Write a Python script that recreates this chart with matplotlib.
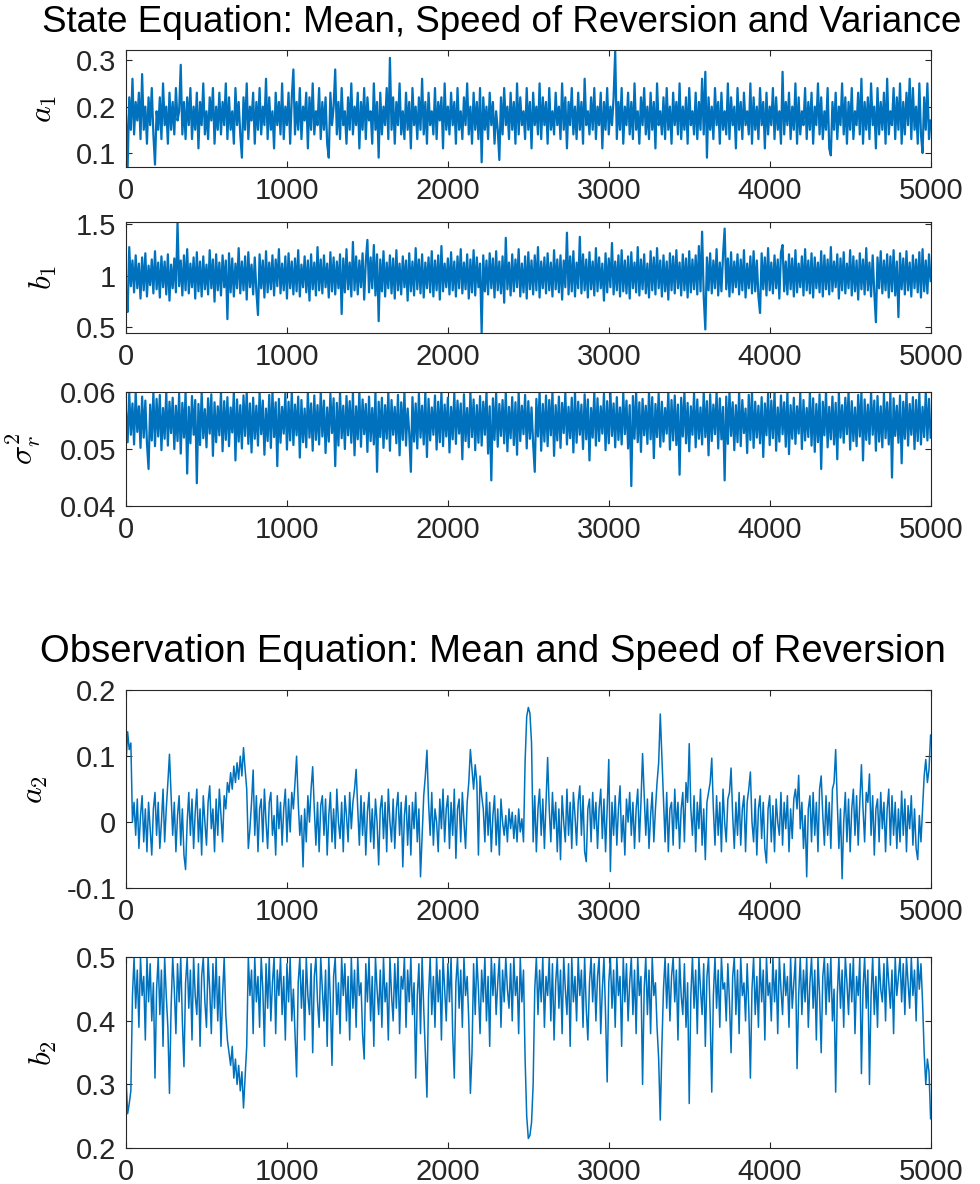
import matplotlib
matplotlib.use("Agg")
import matplotlib.pyplot as plt

# MCMC draws, one value every 10 iterations
iters = list(range(0, 5001, 10))

a1 = [0.18, 0.07, 0.22, 0.15, 0.26, 0.14, 0.21, 0.17, 0.23, 0.13, 0.27, 0.15, 0.20, 0.12, 0.22, 0.16, 0.24, 0.14, 0.075, 0.19,
      0.15, 0.22, 0.13, 0.25, 0.16, 0.20, 0.12, 0.23, 0.15, 0.21, 0.14, 0.24, 0.17, 0.19, 0.29, 0.14, 0.21, 0.13, 0.22, 0.16,
      0.24, 0.13, 0.20, 0.15, 0.23, 0.11, 0.21, 0.16, 0.25, 0.14, 0.19, 0.13, 0.22, 0.17, 0.24, 0.12, 0.20, 0.15, 0.23, 0.14,
      0.21, 0.16, 0.25, 0.13, 0.22, 0.15, 0.19, 0.12, 0.24, 0.16, 0.21, 0.14, 0.09, 0.22, 0.15, 0.25, 0.13, 0.20, 0.17, 0.23,
      0.12, 0.21, 0.15, 0.24, 0.14, 0.20, 0.16, 0.26, 0.13, 0.22, 0.15, 0.19, 0.11, 0.23, 0.16, 0.21, 0.14, 0.25, 0.13, 0.20,
      0.16, 0.23, 0.12, 0.22, 0.28, 0.14, 0.21, 0.15, 0.24, 0.13, 0.20, 0.17, 0.23, 0.11, 0.22, 0.15, 0.25, 0.14, 0.19, 0.16,
      0.24, 0.13, 0.21, 0.15, 0.22, 0.12, 0.09, 0.23, 0.16, 0.20, 0.28, 0.14, 0.21, 0.13, 0.24, 0.16, 0.19, 0.12, 0.22, 0.15,
      0.25, 0.14, 0.20, 0.16, 0.23, 0.11, 0.21, 0.15, 0.24, 0.13, 0.22, 0.17, 0.19, 0.12, 0.25, 0.15, 0.21, 0.09, 0.23, 0.14,
      0.20, 0.16, 0.24, 0.13, 0.305, 0.15, 0.22, 0.12, 0.21, 0.16, 0.25, 0.14, 0.19, 0.13, 0.23, 0.15, 0.21, 0.11, 0.24, 0.16,
      0.20, 0.13, 0.22, 0.15, 0.26, 0.14, 0.21, 0.12, 0.23, 0.16, 0.19, 0.14, 0.24, 0.13, 0.21, 0.17, 0.22, 0.11, 0.25, 0.15,
      0.20, 0.14, 0.23, 0.16, 0.21, 0.12, 0.24, 0.15, 0.19, 0.13, 0.22, 0.16, 0.25, 0.14, 0.20, 0.12, 0.23, 0.15, 0.21, 0.13,
      0.24, 0.08, 0.22, 0.15, 0.20, 0.13, 0.23, 0.16, 0.21, 0.12, 0.19, 0.15, 0.085, 0.22, 0.14, 0.24, 0.16, 0.20, 0.13, 0.23,
      0.15, 0.21, 0.12, 0.25, 0.14, 0.22, 0.16, 0.19, 0.13, 0.24, 0.15, 0.21, 0.11, 0.23, 0.16, 0.20, 0.14, 0.25, 0.13, 0.22,
      0.16, 0.21, 0.12, 0.24, 0.15, 0.19, 0.14, 0.23, 0.16, 0.20, 0.13, 0.25, 0.15, 0.22, 0.11, 0.21, 0.16, 0.24, 0.14, 0.20,
      0.13, 0.23, 0.15, 0.21, 0.12, 0.26, 0.16, 0.19, 0.14, 0.22, 0.15, 0.24, 0.13, 0.20, 0.16, 0.23, 0.11, 0.21, 0.15, 0.24,
      0.14, 0.20, 0.16, 0.22, 0.32, 0.13, 0.21, 0.15, 0.24, 0.12, 0.20, 0.16, 0.23, 0.14, 0.21, 0.13, 0.25, 0.15, 0.19, 0.12,
      0.22, 0.16, 0.24, 0.14, 0.20, 0.13, 0.23, 0.15, 0.21, 0.11, 0.25, 0.16, 0.19, 0.14, 0.22, 0.13, 0.24, 0.15, 0.20, 0.12,
      0.23, 0.16, 0.21, 0.14, 0.25, 0.13, 0.20, 0.15, 0.22, 0.12, 0.24, 0.16, 0.19, 0.14, 0.23, 0.13, 0.21, 0.15, 0.26, 0.14,
      0.275, 0.09, 0.22, 0.15, 0.20, 0.13, 0.24, 0.16, 0.21, 0.12, 0.23, 0.15, 0.19, 0.14, 0.25, 0.13, 0.22, 0.16, 0.20, 0.11,
      0.24, 0.15, 0.21, 0.13, 0.23, 0.16, 0.19, 0.14, 0.25, 0.12, 0.22, 0.15, 0.20, 0.13, 0.24, 0.16, 0.21, 0.11, 0.23, 0.14,
      0.20, 0.16, 0.24, 0.13, 0.22, 0.15, 0.19, 0.12, 0.275, 0.14, 0.21, 0.16, 0.23, 0.13, 0.20, 0.15, 0.25, 0.12, 0.22, 0.14,
      0.19, 0.16, 0.24, 0.13, 0.21, 0.15, 0.23, 0.12, 0.20, 0.16, 0.25, 0.14, 0.22, 0.13, 0.19, 0.15, 0.24, 0.11, 0.095, 0.21,
      0.15, 0.23, 0.13, 0.20, 0.16, 0.25, 0.14, 0.22, 0.12, 0.21, 0.15, 0.24, 0.13, 0.19, 0.16, 0.23, 0.14, 0.26, 0.12, 0.21,
      0.15, 0.22, 0.13, 0.25, 0.16, 0.20, 0.11, 0.24, 0.14, 0.21, 0.15, 0.23, 0.12, 0.26, 0.14, 0.19, 0.16, 0.24, 0.13, 0.22,
      0.15, 0.25, 0.12, 0.21, 0.14, 0.23, 0.16, 0.26, 0.13, 0.24, 0.15, 0.20, 0.12, 0.25, 0.14, 0.10, 0.22, 0.15, 0.25, 0.13,
      0.17]

b1 = [0.82, 0.65, 1.28, 0.90, 1.15, 0.84, 1.20, 0.88, 1.12, 0.78, 1.18, 0.86, 1.22, 0.80, 1.10, 0.91, 1.16, 0.83, 1.24, 0.87,
      1.13, 0.79, 1.19, 0.89, 1.14, 0.82, 1.21, 0.76, 1.11, 0.88, 1.17, 0.84, 1.525, 0.90, 1.15, 0.81, 1.20, 0.86, 1.26, 0.83,
      1.12, 0.89, 1.18, 0.78, 1.23, 0.85, 1.14, 0.80, 1.19, 0.87, 1.11, 0.82, 1.25, 0.88, 1.16, 0.75, 1.21, 0.86, 1.13, 0.81,
      1.20, 0.89, 1.15, 0.58, 1.22, 0.84, 1.17, 0.80, 1.12, 0.88, 1.27, 0.83, 1.14, 0.86, 1.19, 0.77, 1.23, 0.89, 1.11, 0.82,
      1.18, 0.85, 0.62, 1.21, 0.88, 1.15, 0.79, 1.24, 0.84, 1.13, 0.87, 1.20, 0.81, 1.16, 0.90, 1.26, 0.83, 1.12, 0.86, 1.19,
      0.78, 1.22, 0.88, 1.14, 0.82, 1.17, 0.85, 1.25, 0.80, 1.11, 0.89, 1.19, 0.84, 1.15, 0.76, 1.21, 0.87, 1.13, 0.81, 1.28,
      0.86, 1.16, 0.83, 1.20, 0.89, 1.12, 0.79, 1.23, 0.85, 1.18, 0.82, 1.14, 0.88, 1.21, 0.63, 1.17, 0.84, 1.26, 0.87, 1.13,
      0.80, 1.33, 0.86, 1.19, 0.82, 1.15, 0.89, 1.22, 0.77, 1.14, 1.35, 0.84, 1.18, 0.88, 1.30, 0.81, 1.21, 0.56, 1.16, 0.85,
      1.24, 0.80, 1.13, 0.88, 1.20, 0.83, 1.17, 0.78, 1.25, 0.86, 1.12, 0.82, 1.19, 0.89, 1.15, 0.76, 1.22, 0.85, 1.14, 0.81,
      1.27, 0.87, 1.16, 0.83, 1.21, 0.79, 1.13, 0.88, 1.18, 0.84, 1.24, 0.80, 1.15, 0.86, 1.20, 0.77, 1.29, 0.85, 1.12, 0.89,
      1.17, 0.82, 1.23, 0.86, 1.14, 0.80, 1.19, 0.88, 1.26, 0.83, 1.13, 0.87, 1.21, 0.78, 1.16, 0.84, 1.25, 0.81, 1.18, 0.89,
      1.12, 0.446, 1.20, 0.85, 1.15, 0.82, 1.22, 0.88, 1.17, 0.79, 1.24, 0.86, 1.14, 0.83, 1.19, 0.74, 1.37, 0.87, 1.13, 0.81,
      1.21, 0.85, 1.16, 0.89, 1.26, 0.80, 1.12, 0.84, 1.19, 0.78, 1.23, 0.87, 1.15, 0.82, 1.20, 0.86, 1.28, 0.79, 1.14, 0.88,
      1.18, 0.83, 1.22, 0.86, 1.13, 0.80, 1.25, 0.87, 1.16, 0.84, 1.20, 0.77, 1.15, 0.89, 1.42, 0.82, 1.19, 0.85, 1.24, 0.80,
      1.13, 0.88, 1.38, 0.83, 1.21, 0.86, 1.16, 0.79, 1.23, 0.87, 1.14, 0.81, 1.27, 0.85, 1.18, 0.88, 1.12, 0.76, 1.22, 0.84,
      1.17, 0.89, 1.32, 0.82, 1.14, 0.86, 1.20, 0.80, 1.25, 0.85, 1.15, 0.83, 1.19, 0.78, 1.23, 0.88, 1.13, 0.84, 1.28, 0.81,
      1.16, 0.87, 1.21, 0.83, 1.12, 0.79, 1.24, 0.86, 1.18, 0.82, 1.27, 0.88, 1.15, 0.80, 1.20, 0.85, 1.14, 0.77, 1.22, 0.86,
      1.19, 0.83, 1.25, 0.88, 1.13, 0.81, 1.21, 0.86, 1.17, 0.79, 1.24, 0.84, 1.16, 0.87, 1.20, 0.82, 1.29, 0.85, 1.43, 0.80,
      0.48, 1.18, 0.86, 1.22, 0.83, 1.15, 0.88, 1.26, 0.81, 1.13, 0.85, 1.20, 1.46, 0.87, 1.17, 0.80, 1.23, 0.84, 1.14, 0.89,
      1.21, 0.82, 1.16, 0.86, 1.25, 0.79, 1.12, 0.88, 1.19, 0.83, 1.24, 0.85, 1.15, 0.80, 0.64, 1.22, 0.87, 1.18, 0.81, 1.27,
      0.86, 1.13, 0.83, 1.20, 0.88, 1.16, 0.78, 1.23, 1.30, 0.85, 1.14, 0.82, 1.21, 0.87, 1.17, 0.80, 1.25, 0.84, 1.12, 0.89,
      1.19, 0.81, 1.26, 0.86, 1.15, 0.83, 1.22, 0.79, 1.18, 0.88, 1.13, 0.84, 1.24, 0.80, 1.20, 0.87, 1.16, 0.82, 1.28, 0.85,
      1.14, 0.89, 1.21, 0.78, 1.17, 0.86, 1.23, 0.83, 1.12, 0.88, 1.25, 0.81, 1.19, 0.85, 1.15, 0.77, 1.22, 0.87, 1.16, 0.82,
      1.27, 0.86, 1.13, 0.80, 1.20, 0.84, 0.55, 1.18, 0.88, 1.24, 0.83, 1.15, 0.86, 1.21, 0.79, 1.19, 0.85, 1.25, 0.81, 1.14,
      0.60, 1.22, 0.87, 1.17, 0.82, 1.24, 0.86, 1.13, 0.80, 1.20, 0.88, 1.16, 0.84, 1.23, 0.79, 1.26, 0.85, 1.15, 0.83, 1.21,
      0.95]

sigma_r2 = [0.0565, 0.0512, 0.0598, 0.0525, 0.0580, 0.0508, 0.0600, 0.0530, 0.0575, 0.0502, 0.0592, 0.0520, 0.0585, 0.0510, 0.0465, 0.0578, 0.0515, 0.0600, 0.0505, 0.0588,
            0.0522, 0.0595, 0.0498, 0.0572, 0.0518, 0.0600, 0.0506, 0.0583, 0.0528, 0.0590, 0.0500, 0.0576, 0.0514, 0.0597, 0.0492, 0.0581, 0.0520, 0.0600, 0.0457, 0.0574,
            0.0510, 0.0593, 0.0525, 0.0586, 0.0440, 0.0579, 0.0507, 0.0600, 0.0519, 0.0570, 0.0503, 0.0589, 0.0527, 0.0596, 0.0488, 0.0582, 0.0512, 0.0575, 0.0524, 0.0600,
            0.0496, 0.0584, 0.0516, 0.0591, 0.0505, 0.0573, 0.0529, 0.0600, 0.0480, 0.0587, 0.0513, 0.0577, 0.0501, 0.0594, 0.0523, 0.0600, 0.0509, 0.0580, 0.0494, 0.0590,
            0.0518, 0.0576, 0.0506, 0.0599, 0.0526, 0.0585, 0.0490, 0.0571, 0.0514, 0.0595, 0.0502, 0.0600, 0.0521, 0.0582, 0.0470, 0.0588, 0.0511, 0.0574, 0.0527, 0.0597,
            0.0499, 0.0583, 0.0515, 0.0600, 0.0507, 0.0578, 0.0524, 0.0592, 0.0485, 0.0586, 0.0512, 0.0571, 0.0503, 0.0599, 0.0520, 0.0580, 0.0497, 0.0594, 0.0516, 0.0577,
            0.0508, 0.0600, 0.0522, 0.0585, 0.0493, 0.0573, 0.0513, 0.0597, 0.0528, 0.0589, 0.0470, 0.0581, 0.0506, 0.0600, 0.0519, 0.0576, 0.0500, 0.0593, 0.0524, 0.0584,
            0.0511, 0.0598, 0.0489, 0.0575, 0.0517, 0.0600, 0.0504, 0.0587, 0.0526, 0.0579, 0.0495, 0.0592, 0.0514, 0.0572, 0.0508, 0.0599, 0.0460, 0.0583, 0.0521, 0.0590,
            0.0502, 0.0577, 0.0518, 0.0600, 0.0497, 0.0586, 0.0525, 0.0574, 0.0510, 0.0595, 0.0489, 0.0582, 0.0516, 0.0600, 0.0506, 0.0571, 0.0528, 0.0460, 0.0591, 0.0513,
            0.0580, 0.0501, 0.0597, 0.0520, 0.0576, 0.0508, 0.0600, 0.0486, 0.0588, 0.0515, 0.0573, 0.0525, 0.0594, 0.0499, 0.0583, 0.0512, 0.0600, 0.0505, 0.0578, 0.0522,
            0.0590, 0.0494, 0.0574, 0.0517, 0.0599, 0.0509, 0.0585, 0.0527, 0.0580, 0.0482, 0.0596, 0.0514, 0.0572, 0.0503, 0.0600, 0.0521, 0.0587, 0.0498, 0.0577, 0.0511,
            0.0593, 0.0506, 0.0583, 0.0525, 0.0600, 0.0492, 0.0575, 0.0445, 0.0589, 0.0516, 0.0598, 0.0504, 0.0579, 0.0523, 0.0586, 0.0510, 0.0600, 0.0496, 0.0574, 0.0519,
            0.0591, 0.0507, 0.0582, 0.0490, 0.0600, 0.0514, 0.0576, 0.0526, 0.0595, 0.0501, 0.0584, 0.0518, 0.0573, 0.0509, 0.0460, 0.0588, 0.0522, 0.0600, 0.0497, 0.0579,
            0.0513, 0.0594, 0.0505, 0.0586, 0.0524, 0.0600, 0.0488, 0.0577, 0.0515, 0.0592, 0.0502, 0.0581, 0.0528, 0.0599, 0.0508, 0.0574, 0.0519, 0.0590, 0.0494, 0.0600,
            0.0511, 0.0583, 0.0525, 0.0578, 0.0500, 0.0596, 0.0517, 0.0587, 0.0480, 0.0572, 0.0520, 0.0600, 0.0506, 0.0589, 0.0514, 0.0575, 0.0527, 0.0597, 0.0498, 0.0584,
            0.0510, 0.0600, 0.0523, 0.0580, 0.0503, 0.0591, 0.0516, 0.0573, 0.0508, 0.0598, 0.0526, 0.0585, 0.0501, 0.0577, 0.0435, 0.0593, 0.0518, 0.0600, 0.0512, 0.0582,
            0.0495, 0.0588, 0.0524, 0.0576, 0.0509, 0.0600, 0.0517, 0.0591, 0.0484, 0.0579, 0.0521, 0.0597, 0.0504, 0.0583, 0.0513, 0.0572, 0.0527, 0.0600, 0.0499, 0.0586,
            0.0515, 0.0594, 0.0507, 0.0578, 0.0455, 0.0590, 0.0522, 0.0600, 0.0510, 0.0581, 0.0496, 0.0575, 0.0525, 0.0598, 0.0503, 0.0587, 0.0518, 0.0573, 0.0508, 0.0600,
            0.0521, 0.0584, 0.0489, 0.0596, 0.0514, 0.0578, 0.0526, 0.0600, 0.0501, 0.0589, 0.0517, 0.0574, 0.0445, 0.0592, 0.0509, 0.0600, 0.0523, 0.0582, 0.0498, 0.0577,
            0.0512, 0.0599, 0.0505, 0.0586, 0.0528, 0.0571, 0.0493, 0.0595, 0.0516, 0.0600, 0.0502, 0.0583, 0.0520, 0.0576, 0.0510, 0.0591, 0.0486, 0.0580, 0.0524, 0.0597,
            0.0507, 0.0585, 0.0519, 0.0600, 0.0497, 0.0573, 0.0513, 0.0594, 0.0526, 0.0582, 0.0504, 0.0600, 0.0491, 0.0577, 0.0518, 0.0590, 0.0509, 0.0575, 0.0527, 0.0598,
            0.0500, 0.0586, 0.0515, 0.0572, 0.0521, 0.0600, 0.0506, 0.0589, 0.0495, 0.0579, 0.0512, 0.0596, 0.0465, 0.0583, 0.0524, 0.0600, 0.0503, 0.0574, 0.0517, 0.0592,
            0.0508, 0.0581, 0.0482, 0.0599, 0.0520, 0.0577, 0.0511, 0.0590, 0.0526, 0.0600, 0.0499, 0.0584, 0.0514, 0.0573, 0.0505, 0.0595, 0.0522, 0.0600, 0.0480, 0.0587,
            0.0516, 0.0578, 0.0509, 0.0600, 0.0525, 0.0585, 0.0497, 0.0593, 0.0513, 0.0575, 0.0503, 0.0598, 0.0519, 0.0582, 0.0508, 0.0600, 0.0450, 0.0589, 0.0523, 0.0576,
            0.0511, 0.0594, 0.0475, 0.0583, 0.0518, 0.0600, 0.0506, 0.0579, 0.0525, 0.0591, 0.0500, 0.0586, 0.0514, 0.0597, 0.0508, 0.0574, 0.0521, 0.0600, 0.0515, 0.0588,
            0.0520]

a2 = [0.09, 0.137, 0.11, 0.12, 0.0, 0.03, -0.02, 0.035, -0.04, 0.01, 0.04, -0.03, 0.02, -0.045, 0.03, -0.01, -0.05, 0.02, 0.045, -0.02,
      0.03, -0.04, 0.0, 0.05, -0.03, 0.02, 0.06, 0.103, 0.04, -0.02, 0.03, -0.045, 0.01, 0.04, -0.035, 0.02, -0.05, -0.072, 0.0, 0.045,
      -0.02, 0.035, -0.04, 0.015, 0.05, -0.03, 0.02, -0.05, 0.04, 0.0, -0.035, 0.03, 0.055, -0.01, 0.02, -0.045, 0.035, -0.02, 0.05, 0.01,
      -0.03, 0.04, 0.02, 0.06, 0.045, 0.075, 0.05, 0.085, 0.06, 0.09, 0.065, 0.10, 0.07, 0.113, 0.08, 0.05, -0.04, -0.01, 0.03, 0.079,
      -0.02, 0.04, -0.045, 0.02, 0.035, -0.03, 0.05, 0.0, -0.04, 0.03, 0.045, -0.02, 0.01, -0.05, 0.04, -0.01, 0.03, -0.035, 0.02, 0.05,
      -0.03, 0.035, -0.015, 0.045, 0.02, 0.06, 0.10, 0.03, -0.02, 0.01, -0.068, 0.02, -0.03, 0.04, 0.0, 0.05, 0.084, 0.02, -0.035, 0.03,
      -0.045, 0.025, 0.04, -0.02, 0.035, -0.05, 0.01, 0.045, -0.03, 0.02, -0.04, 0.05, 0.0, -0.025, 0.03, -0.045, 0.04, 0.01, -0.03, 0.045,
      -0.01, 0.03, 0.05, 0.08, 0.02, -0.035, 0.04, -0.02, 0.03, -0.05, 0.015, 0.045, -0.03, 0.02, -0.04, 0.035, 0.0, -0.065, 0.02, 0.04,
      -0.025, 0.03, -0.045, 0.05, 0.0, -0.03, 0.035, -0.04, 0.02, 0.045, -0.02, 0.03, -0.068, 0.01, 0.04, -0.035, 0.025, -0.05, 0.03, -0.01,
      0.045, -0.03, 0.02, -0.083, -0.02, 0.04, 0.07, 0.109, 0.03, -0.02, 0.045, -0.035, 0.02, 0.0, -0.045, 0.035, -0.01, 0.05, -0.03, 0.02,
      0.04, -0.04, 0.03, -0.02, 0.05, -0.055, 0.02, 0.035, -0.03, 0.045, 0.0, -0.04, 0.03, 0.06, 0.11, 0.08, 0.05, 0.087, 0.06, -0.05,
      0.07, 0.04, 0.02, -0.03, 0.045, -0.02, 0.03, -0.045, 0.01, 0.04, -0.035, 0.02, -0.05, 0.035, 0.0, -0.02, 0.01, -0.03, 0.02, -0.01,
      0.015, -0.025, 0.01, -0.03, 0.02, -0.015, 0.005, -0.03, 0.092, 0.16, 0.174, 0.165, 0.12, -0.03, 0.04, -0.045, 0.02, 0.05, -0.02, 0.035,
      -0.04, 0.03, 0.098, 0.02, -0.03, 0.045, -0.01, 0.03, -0.045, 0.02, -0.057, 0.04, 0.0, -0.03, 0.05, -0.02, 0.03, -0.04, 0.045, 0.01,
      -0.035, 0.03, 0.055, -0.02, 0.04, -0.045, -0.06, 0.02, 0.035, -0.03, 0.045, -0.01, 0.03, -0.04, 0.02, 0.05, -0.025, 0.035, -0.045, 0.02,
      0.095, -0.075, 0.03, -0.02, 0.04, -0.035, 0.02, 0.055, -0.03, 0.01, -0.05, 0.035, 0.0, 0.045, -0.02, 0.03, -0.04, 0.02, 0.05, -0.03,
      0.03, 0.104, 0.04, -0.02, 0.035, -0.04, 0.01, 0.045, -0.03, 0.02, 0.06, 0.09, 0.164, 0.10, 0.04, -0.03, 0.045, -0.045, 0.02, 0.03,
      -0.035, 0.05, -0.01, 0.03, -0.04, 0.02, 0.045, -0.03, 0.06, 0.03, 0.119, 0.02, -0.02, 0.04, -0.045, 0.03, -0.01, 0.05, -0.035, 0.02,
      -0.057, 0.03, 0.045, 0.06, 0.097, 0.02, -0.035, 0.04, -0.02, 0.03, -0.045, 0.05, 0.0, -0.03, 0.035, 0.045, 0.082, 0.01, -0.04, 0.03,
      -0.02, 0.045, -0.035, 0.02, 0.04, -0.045, 0.03, 0.05, 0.076, 0.0, -0.03, 0.035, -0.05, 0.02, 0.04, -0.025, 0.03, -0.04, -0.062, 0.02,
      0.04, -0.03, 0.025, -0.045, 0.035, 0.0, -0.02, 0.045, -0.035, 0.03, -0.01, 0.04, -0.045, 0.02, -0.025, 0.035, 0.05, 0.02, 0.071, -0.01,
      0.03, -0.04, 0.01, -0.083, 0.02, 0.04, -0.03, 0.045, -0.02, 0.03, -0.045, 0.05, 0.07, 0.01, -0.035, 0.04, -0.02, 0.03, -0.04, 0.05,
      0.06, 0.11, 0.03, -0.04, 0.02, -0.086, 0.0, 0.045, -0.03, 0.035, -0.045, 0.02, 0.05, -0.02, 0.04, -0.035, 0.03, 0.087, 0.02, -0.03,
      0.045, 0.03, 0.073, -0.02, 0.04, -0.05, 0.02, 0.035, -0.03, 0.045, -0.01, 0.03, -0.045, 0.02, 0.05, -0.035, 0.04, -0.02, 0.03, -0.04,
      0.02, -0.03, 0.047, -0.02, 0.035, -0.045, 0.025, -0.01, 0.04, -0.035, 0.02, -0.04, -0.057, 0.01, -0.03, 0.02, 0.07, 0.095, 0.06, 0.08,
      0.132]

b2 = [0.31, 0.254, 0.27, 0.29, 0.44, 0.50, 0.42, 0.48, 0.39, 0.50, 0.44, 0.47, 0.37, 0.50, 0.43, 0.49, 0.40, 0.46, 0.31, 0.45,
      0.50, 0.41, 0.48, 0.36, 0.50, 0.44, 0.39, 0.286, 0.42, 0.50, 0.45, 0.38, 0.49, 0.43, 0.50, 0.40, 0.328, 0.46, 0.50, 0.42,
      0.48, 0.37, 0.50, 0.44, 0.41, 0.49, 0.36, 0.47, 0.50, 0.43, 0.39, 0.50, 0.45, 0.38, 0.49, 0.42, 0.50, 0.40, 0.47, 0.36,
      0.44, 0.50, 0.41, 0.37, 0.35, 0.33, 0.36, 0.31, 0.34, 0.30, 0.33, 0.29, 0.32, 0.263, 0.31, 0.36, 0.50, 0.44, 0.48, 0.38,
      0.50, 0.43, 0.47, 0.39, 0.50, 0.45, 0.36, 0.49, 0.42, 0.50, 0.40, 0.46, 0.50, 0.38, 0.48, 0.44, 0.50, 0.41, 0.47, 0.37,
      0.49, 0.43, 0.50, 0.40, 0.45, 0.38, 0.312, 0.46, 0.50, 0.42, 0.48, 0.37, 0.50, 0.44, 0.41, 0.49, 0.35, 0.47, 0.50, 0.43,
      0.39, 0.50, 0.45, 0.40, 0.48, 0.36, 0.50, 0.43, 0.33, 0.47, 0.50, 0.41, 0.46, 0.38, 0.50, 0.44, 0.49, 0.40, 0.47, 0.37,
      0.50, 0.42, 0.48, 0.39, 0.50, 0.44, 0.46, 0.38, 0.34, 0.49, 0.43, 0.50, 0.40, 0.47, 0.36, 0.50, 0.45, 0.41, 0.48, 0.39,
      0.50, 0.43, 0.46, 0.37, 0.50, 0.44, 0.40, 0.49, 0.42, 0.50, 0.38, 0.47, 0.45, 0.50, 0.39, 0.48, 0.43, 0.50, 0.41, 0.46,
      0.31, 0.44, 0.49, 0.38, 0.50, 0.42, 0.35, 0.28, 0.44, 0.50, 0.41, 0.47, 0.39, 0.50, 0.43, 0.48, 0.37, 0.50, 0.45, 0.40,
      0.49, 0.43, 0.50, 0.38, 0.31, 0.46, 0.50, 0.42, 0.48, 0.39, 0.50, 0.44, 0.47, 0.40, 0.286, 0.35, 0.49, 0.41, 0.50, 0.45,
      0.38, 0.48, 0.43, 0.50, 0.40, 0.47, 0.36, 0.50, 0.44, 0.49, 0.41, 0.46, 0.50, 0.39, 0.48, 0.43, 0.50, 0.45, 0.42, 0.49,
      0.40, 0.50, 0.44, 0.47, 0.38, 0.50, 0.43, 0.48, 0.34, 0.25, 0.215, 0.22, 0.24, 0.30, 0.45, 0.50, 0.41, 0.48, 0.43, 0.50,
      0.39, 0.47, 0.44, 0.50, 0.40, 0.49, 0.37, 0.46, 0.50, 0.42, 0.48, 0.38, 0.50, 0.45, 0.41, 0.49, 0.36, 0.50, 0.43, 0.47,
      0.40, 0.50, 0.44, 0.48, 0.39, 0.50, 0.42, 0.37, 0.46, 0.50, 0.43, 0.49, 0.40, 0.47, 0.50, 0.38, 0.45, 0.50, 0.41, 0.304,
      0.46, 0.50, 0.42, 0.48, 0.39, 0.50, 0.44, 0.47, 0.36, 0.50, 0.43, 0.49, 0.40, 0.46, 0.50, 0.41, 0.48, 0.38, 0.50, 0.44,
      0.47, 0.30, 0.45, 0.50, 0.41, 0.48, 0.38, 0.50, 0.44, 0.46, 0.39, 0.34, 0.244, 0.36, 0.45, 0.50, 0.42, 0.49, 0.40, 0.47,
      0.50, 0.43, 0.48, 0.37, 0.50, 0.44, 0.41, 0.49, 0.39, 0.46, 0.27, 0.44, 0.50, 0.42, 0.48, 0.38, 0.50, 0.45, 0.41, 0.49,
      0.36, 0.47, 0.50, 0.41, 0.288, 0.44, 0.50, 0.42, 0.48, 0.39, 0.50, 0.45, 0.46, 0.40, 0.49, 0.43, 0.35, 0.47, 0.50, 0.41,
      0.48, 0.38, 0.50, 0.44, 0.46, 0.40, 0.49, 0.42, 0.31, 0.45, 0.50, 0.41, 0.47, 0.39, 0.50, 0.43, 0.48, 0.37, 0.50, 0.44,
      0.46, 0.40, 0.50, 0.43, 0.48, 0.38, 0.50, 0.45, 0.41, 0.49, 0.44, 0.47, 0.39, 0.50, 0.42, 0.46, 0.50, 0.325, 0.44, 0.50,
      0.41, 0.48, 0.43, 0.50, 0.39, 0.46, 0.50, 0.42, 0.48, 0.37, 0.50, 0.44, 0.35, 0.47, 0.50, 0.41, 0.49, 0.43, 0.50, 0.40,
      0.45, 0.288, 0.44, 0.50, 0.42, 0.48, 0.39, 0.50, 0.46, 0.41, 0.49, 0.43, 0.50, 0.38, 0.47, 0.44, 0.50, 0.317, 0.45, 0.50,
      0.42, 0.48, 0.30, 0.44, 0.50, 0.41, 0.47, 0.39, 0.50, 0.45, 0.43, 0.49, 0.40, 0.50, 0.46, 0.42, 0.48, 0.38, 0.50, 0.44,
      0.47, 0.50, 0.43, 0.49, 0.41, 0.50, 0.46, 0.42, 0.50, 0.44, 0.48, 0.40, 0.50, 0.45, 0.49, 0.43, 0.35, 0.30, 0.34, 0.32,
      0.246]

xticks = [0, 1000, 2000, 3000, 4000, 5000]

plt.rcParams['font.family'] = ['Liberation Sans', 'DejaVu Sans']
plt.rcParams['mathtext.fontset'] = 'cm'

line_color = '#0072BD'
frame_color = '#262626'

fig = plt.figure(figsize=(9.8, 11.84), dpi=100)

# (series, label, ylim, yticks, ytick labels, axes rect, line width)
panels = [
    (a1, r'$a_1$', (0.07, 0.322), [0.1, 0.2, 0.3], ['0.1', '0.2', '0.3'],
     [0.1286, 0.859, 0.821, 0.0988], 1.6),
    (b1, r'$b_1$', (0.446, 1.525), [0.5, 1, 1.5], ['0.5', '1', '1.5'],
     [0.1286, 0.7188, 0.821, 0.0938], 1.6),
    (sigma_r2, r'$\sigma_r^2$', (0.04, 0.06), [0.04, 0.05, 0.06], ['0.04', '0.05', '0.06'],
     [0.1286, 0.5726, 0.821, 0.0963], 1.6),
    (a2, r'$a_2$', (-0.1, 0.2), [-0.1, 0, 0.1, 0.2], ['-0.1', '0', '0.1', '0.2'],
     [0.1286, 0.2500, 0.821, 0.1670], 1.1),
    (b2, r'$b_2$', (0.2, 0.5), [0.2, 0.3, 0.4, 0.5], ['0.2', '0.3', '0.4', '0.5'],
     [0.1286, 0.0304, 0.821, 0.1610], 1.1),
]

for y, label, ylim, yt, ytl, rect, lw in panels:
    ax = fig.add_axes(rect)
    ax.plot(iters, y, color=line_color, linewidth=lw)
    ax.set_xlim(0, 5000)
    ax.set_ylim(*ylim)
    ax.set_xticks(xticks)
    ax.set_xticklabels([str(t) for t in xticks])
    ax.set_yticks(yt)
    ax.set_yticklabels(ytl)
    ax.tick_params(direction='in', top=True, right=True, length=4, width=0.8,
                   colors=frame_color, labelsize=21, pad=7)
    for side in ax.spines.values():
        side.set_color(frame_color)
        side.set_linewidth(0.8)
    ax.set_ylabel(label, fontsize=23, color='black', labelpad=12)

fig.text(0.512, 0.981, 'State Equation: Mean, Speed of Reversion and Variance',
         ha='center', va='center', fontsize=26.5, color='black')
fig.text(0.503, 0.449, 'Observation Equation: Mean and Speed of Reversion',
         ha='center', va='center', fontsize=27.5, color='black')

fig.savefig('out.png', dpi=100)
